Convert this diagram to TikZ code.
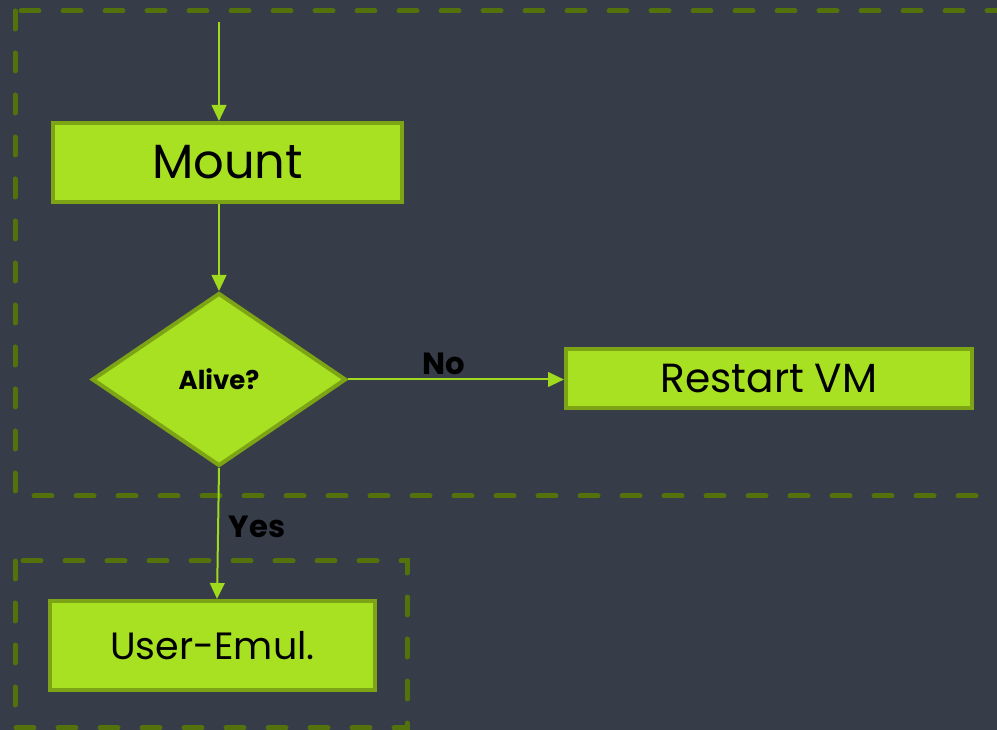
\documentclass[tikz,border=0pt]{standalone}
\usepackage{fontspec}
\setmainfont{Poppins}
\usetikzlibrary{shapes.geometric,arrows.meta}
\definecolor{slate}{RGB}{54,60,72}
\definecolor{lime}{RGB}{168,224,34}
\definecolor{limedark}{RGB}{124,164,20}
\definecolor{olive}{RGB}{84,114,12}
\definecolor{wire}{RGB}{160,218,30}
\begin{document}
\begin{tikzpicture}[x=0.75pt,y=-0.75pt,
  box/.style = {draw=limedark,line width=3pt,fill=lime,inner sep=0pt,text=black},
  decision/.style = {diamond,draw=limedark,line width=3pt,fill=lime,inner sep=0pt,
    minimum width=190.5pt,minimum height=129.75pt,font=\bfseries\fontsize{19.5}{22}\selectfont},
  flow/.style = {draw=wire,line width=1.5pt,-{Triangle[length=12pt,width=11pt]}},
  group/.style = {draw=olive,line width=3.75pt,line cap=round,dash pattern=on 13.5pt off 18pt},
  lbl/.style = {text=black,font=\bfseries\fontsize{23}{26}\selectfont}]
\fill[slate] (0,0) rectangle (997,730);
\clip (0,0) rectangle (997,730);
% dashed groups
\draw[group] (15,11) rectangle (1012,496);
\draw[group] (15,561) rectangle (407,728);
% nodes
\coordinate (entry) at (219,22);
\node[box,minimum width=261.75pt,minimum height=59.25pt,font=\fontsize{36}{40}\selectfont] (mount) at (227.5,162.5) {Mount};
\node[decision] (alive) at (219,379.5) {Alive?};
\node[box,minimum width=304.5pt,minimum height=44.25pt,font=\fontsize{30.5}{34}\selectfont] (restart) at (769,378.5) {Restart VM};
\node[box,minimum width=243.75pt,minimum height=66.75pt,font=\fontsize{28.5}{32}\selectfont] (user) at (212.5,645.5) {User-Emul.};
\node[lbl] (no) at (444,364) {No};
\node[lbl] (yes) at (257,527) {Yes};
% connectors
\draw[flow] (entry) -- (entry |- mount.north);
\draw[flow] (alive.north |- mount.south) -- (alive.north);
\draw[flow] (alive.east) -- (restart.west |- alive.east);
\draw[flow] (alive.south) -- ([xshift=3.4pt]user.north);
\end{tikzpicture}
\end{document}
